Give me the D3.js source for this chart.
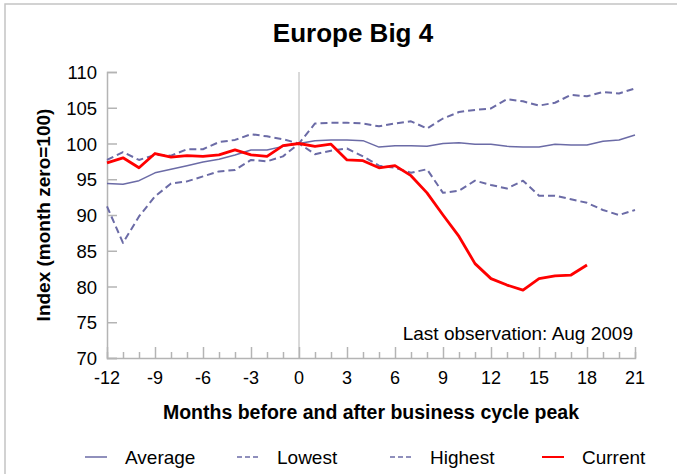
<!DOCTYPE html>
<html>
<head>
<meta charset="utf-8">
<script src="https://cdn.jsdelivr.net/npm/d3@7"></script>
<style>
  body { margin: 0; background: #fff; }
  svg { font-family: "Liberation Sans", Arial, sans-serif; }
</style>
</head>
<body>
<div id="chart"></div>
<script>
// months relative to the business cycle peak
const months = d3.range(-12, 22);

const average = [94.4, 94.3, 94.8, 95.9, 96.4, 96.9, 97.4, 97.8, 98.4, 99.1, 99.1, 99.6, 100.0,
  100.4, 100.5, 100.5, 100.4, 99.5, 99.7, 99.7, 99.6, 100.0, 100.1, 99.9, 99.9, 99.6,
  99.5, 99.5, 99.9, 99.8, 99.8, 100.3, 100.5, 101.2];

const lowest = [97.7, 98.8, 97.7, 98.4, 98.3, 99.2, 99.2, 100.2, 100.5, 101.3, 101.0, 100.6, 100.0,
  98.5, 99.0, 99.3, 98.2, 96.9, 96.6, 95.9, 96.4, 93.1, 93.4, 94.8, 94.2, 93.7,
  94.8, 92.7, 92.7, 92.2, 91.7, 90.7, 90.0, 90.7];

const highest = [91.2, 86.1, 89.8, 92.6, 94.4, 94.7, 95.4, 96.1, 96.3, 97.7, 97.5, 98.2, 100.0,
  102.8, 102.9, 102.9, 102.8, 102.4, 102.8, 103.1, 102.1, 103.5, 104.4, 104.7, 104.9, 106.2,
  105.9, 105.3, 105.7, 106.8, 106.6, 107.2, 107.0, 107.7];

// last observation is month 18
const current = [97.3, 98.0, 96.6, 98.6, 98.1, 98.3, 98.2, 98.4, 99.1, 98.4, 98.2, 99.7, 100.0,
  99.6, 99.9, 97.7, 97.6, 96.6, 96.9, 95.5, 93.1, 90.0, 87.0, 83.2, 81.1, 80.2,
  79.5, 81.1, 81.5, 81.6, 83.0];

const yTicks = [70, 75, 80, 85, 90, 95, 100, 105, 110];
const xTicks = [-12, -9, -6, -3, 0, 3, 6, 9, 12, 15, 18, 21];

const W = 677, H = 474;
const margin = { left: 107, right: 42, top: 72, bottom: 116 };
const lineColor = "#6b6ba6";
const axisColor = "#b4b4b4";

const svg = d3.select("#chart").append("svg")
  .attr("width", W).attr("height", H);

// outer frame
svg.append("rect")
  .attr("x", 5).attr("y", 4)
  .attr("width", W).attr("height", H)
  .attr("fill", "none").attr("stroke", "#c4c4c4").attr("stroke-width", 1.5);

const x = d3.scaleLinear().domain([-12, 21]).range([margin.left, W - margin.right]);
const y = d3.scaleLinear().domain([70, 110]).range([H - margin.bottom, margin.top]);

// zero line
svg.append("line")
  .attr("x1", x(0)).attr("x2", x(0))
  .attr("y1", y(110)).attr("y2", y(70))
  .attr("stroke", axisColor).attr("stroke-width", 1);

// y axis: ticks pointing into the plot
const yAxis = svg.append("g")
  .attr("transform", `translate(${x(-12)},0)`)
  .call(d3.axisRight(y).tickValues(yTicks).tickSize(10).tickFormat(""));
yAxis.select(".domain").attr("stroke", axisColor).attr("stroke-width", 1.5);
yAxis.selectAll(".tick line").attr("stroke", axisColor).attr("stroke-width", 1.5);

svg.append("g").selectAll("text")
  .data(yTicks).join("text")
  .attr("x", x(-12) - 10).attr("y", d => y(d) + 7)
  .attr("text-anchor", "end")
  .attr("font-size", 18.5)
  .text(d => d);

// x axis: minor ticks every month, major every 3
const xAxis = svg.append("g")
  .attr("transform", `translate(0,${y(70)})`)
  .call(d3.axisTop(x).tickValues(months).tickSize(6).tickFormat(""));
xAxis.select(".domain").attr("stroke", axisColor).attr("stroke-width", 1.5);
xAxis.selectAll(".tick line")
  .attr("stroke", axisColor).attr("stroke-width", 1.5)
  .attr("y2", d => (d % 3 === 0 ? -11 : -6));

svg.append("g").selectAll("text")
  .data(xTicks).join("text")
  .attr("x", d => x(d)).attr("y", y(70) + 26)
  .attr("text-anchor", "middle")
  .attr("font-size", 18)
  .text(d => d);

// series
const line = d3.line()
  .x((d, i) => x(months[i]))
  .y(d => y(d));

const series = [
  { name: "Average", values: average, color: lineColor, width: 1.5, dash: null },
  { name: "Lowest", values: lowest, color: lineColor, width: 2, dash: "7,4" },
  { name: "Highest", values: highest, color: lineColor, width: 2, dash: "7,4" },
  { name: "Current", values: current, color: "#ff0000", width: 2.8, dash: null },
];

svg.append("g").selectAll("path")
  .data(series).join("path")
  .attr("d", d => line(d.values))
  .attr("fill", "none")
  .attr("stroke", d => d.color)
  .attr("stroke-width", d => d.width)
  .attr("stroke-dasharray", d => d.dash)
  .attr("stroke-linejoin", "round");

// annotation
svg.append("text")
  .attr("x", x(21) - 2).attr("y", 340)
  .attr("text-anchor", "end")
  .attr("font-size", 19)
  .text("Last observation: Aug 2009");

// titles
svg.append("text")
  .attr("x", 353).attr("y", 42)
  .attr("text-anchor", "middle")
  .attr("font-size", 26).attr("font-weight", "bold")
  .text("Europe Big 4");

svg.append("text")
  .attr("transform", `translate(50,${y(90)}) rotate(-90)`)
  .attr("text-anchor", "middle")
  .attr("font-size", 19).attr("font-weight", "bold")
  .text("Index (month zero=100)");

svg.append("text")
  .attr("x", 371).attr("y", 419)
  .attr("text-anchor", "middle")
  .attr("font-size", 19.5).attr("font-weight", "bold")
  .text("Months before and after business cycle peak");

// legend
const legendX = [85, 237, 390, 542];
const legend = svg.append("g").selectAll("g")
  .data(series).join("g")
  .attr("transform", (d, i) => `translate(${legendX[i]},457)`);

legend.append("line")
  .attr("x1", 0).attr("x2", 22)
  .attr("stroke", d => d.color)
  .attr("stroke-width", d => (d.name === "Current" ? 2 : 1.5))
  .attr("stroke-dasharray", d => (d.dash ? "5,3" : null));

legend.append("text")
  .attr("x", 40)
  .attr("y", 6.5)
  .attr("font-size", 19)
  .text(d => d.name);
</script>
</body>
</html>
